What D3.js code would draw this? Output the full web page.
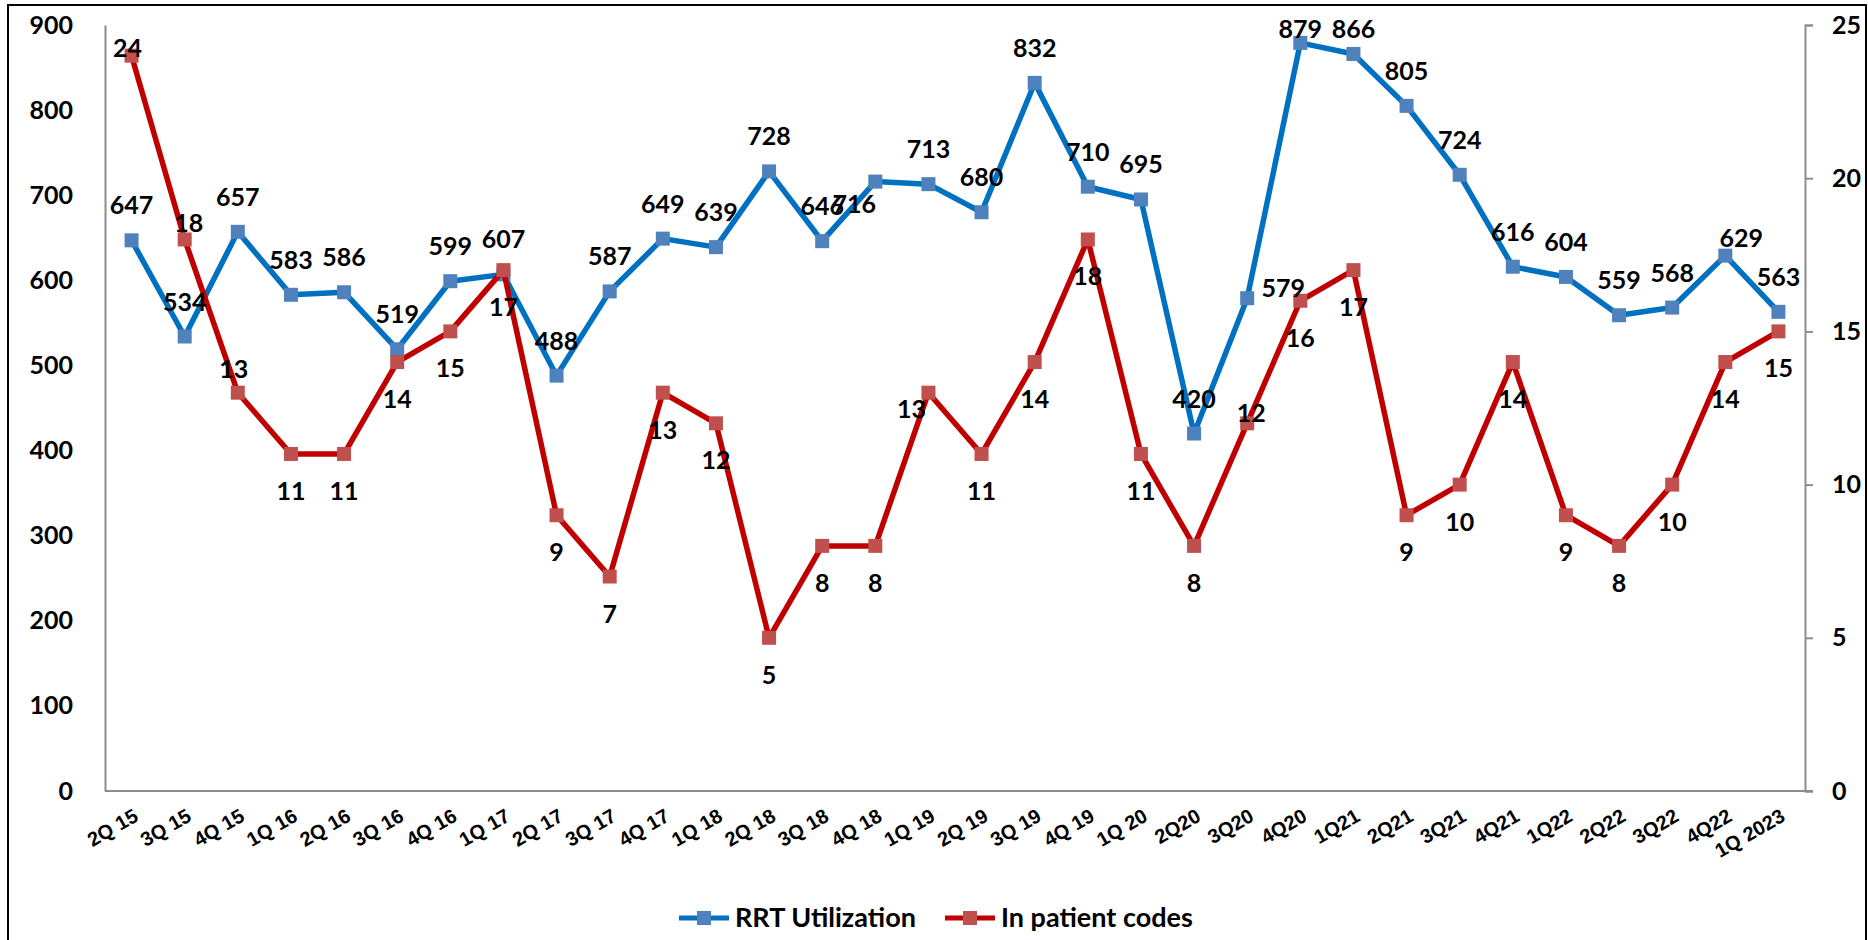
<!DOCTYPE html>
<html>
  <head>
    <meta http-equiv="content-type" content="text/html; charset=utf-8" />
    <title>RRT Utilization vs In patient codes</title>
    <script type="text/javascript" src="https://cdn.jsdelivr.net/npm/d3@7"></script>
  </head>
  <body style="margin:0;background:#fff;">
    <script type="text/javascript">
// quarters on the x axis
var quarters = ["2Q 15","3Q 15","4Q 15","1Q 16","2Q 16","3Q 16","4Q 16","1Q 17",
                "2Q 17","3Q 17","4Q 17","1Q 18","2Q 18","3Q 18","4Q 18","1Q 19",
                "2Q 19","3Q 19","4Q 19","1Q 20","2Q20","3Q20","4Q20","1Q21",
                "2Q21","3Q21","4Q21","1Q22","2Q22","3Q22","4Q22","1Q 2023"];

// left axis series
var rrtUtilization = [647,534,657,583,586,519,599,607,488,587,649,639,728,646,716,713,
                      680,832,710,695,420,579,879,866,805,724,616,604,559,568,629,563];

// right axis series
var inPatientCodes = [24,18,13,11,11,14,15,17,9,7,13,12,5,8,8,13,
                      11,14,18,11,8,12,16,17,9,10,14,9,8,10,14,15];

var leftTicks = [0,100,200,300,400,500,600,700,800,900];
var rightTicks = [0,5,10,15,20,25];

// label nudges where excel moved the label off its default spot [dx, dy]
var rrtLabelNudge = {14: [-21, 57], 21: [36, 25], 22: [0, 21], 23: [0, 10], 30: [16, 17]};
var codeLabelNudge = {0: [-4, -45], 1: [4, -53], 2: [-4, -61], 15: [-17, -21], 21: [4, -47]};

var w = 1868, h = 940,
    plotLeft = 105, plotRight = 1805, plotTop = 25, plotBottom = 791;

var svg = d3.select("body").append("svg")
  .attr("width", w).attr("height", h)
  .style("display", "block");

svg.append("rect")
  .attr("x", 8).attr("y", 5)
  .attr("width", 1858).attr("height", 960)
  .attr("fill", "#fff").attr("stroke", "#000").attr("stroke-width", 2);

var x = d3.scalePoint().domain(quarters).range([plotLeft, plotRight]).padding(0.5);
var yL = d3.scaleLinear().domain([0, 900]).range([plotBottom, plotTop]);
var yR = d3.scaleLinear().domain([0, 25]).range([plotBottom, plotTop]);

var numFont = "Lato, 'Open Sans', sans-serif";

// axes
var gL = svg.append("g").attr("transform", "translate(" + plotLeft + ",0)")
  .call(d3.axisLeft(yL).tickValues(leftTicks).tickSize(0).tickSizeOuter(0).tickPadding(32));
var gR = svg.append("g").attr("transform", "translate(" + plotRight + ",0)")
  .call(d3.axisRight(yR).tickValues(rightTicks).tickSize(8).tickSizeOuter(8).tickPadding(19));

[gL, gR].forEach(function(g) {
  g.select(".domain").attr("stroke", "#8c8c8c").attr("stroke-width", 2);
  g.selectAll(".tick line").attr("stroke", "#8c8c8c").attr("stroke-width", 2);
  g.selectAll("text")
    .attr("fill", "#000")
    .attr("font-family", numFont)
    .attr("font-weight", "bold")
    .attr("font-size", 25);
});

svg.append("line")
  .attr("x1", plotLeft).attr("x2", plotRight + 8)
  .attr("y1", plotBottom).attr("y2", plotBottom)
  .attr("stroke", "#8c8c8c").attr("stroke-width", 2);

// rotated quarter labels
svg.append("g").selectAll("text")
  .data(quarters)
  .enter()
    .append("text")
    .attr("transform", function(d) { return "translate(" + (x(d) + 8) + ",820) rotate(-30)"; })
    .attr("text-anchor", "end")
    .attr("font-family", "'Liberation Sans', Arial, sans-serif")
    .attr("font-weight", "bold")
    .attr("font-size", 20)
    .text(function(d) { return d; });

function drawSeries(values, y, lineColor, markColor) {
  var line = d3.line()
    .x(function(d, i) { return x(quarters[i]); })
    .y(function(d) { return y(d); });
  svg.append("path")
    .datum(values)
    .attr("d", line)
    .attr("fill", "none")
    .attr("stroke", lineColor)
    .attr("stroke-width", 5.5)
    .attr("stroke-linejoin", "round");
  svg.append("g").selectAll("rect")
    .data(values)
    .enter()
      .append("rect")
      .attr("x", function(d, i) { return x(quarters[i]) - 7; })
      .attr("y", function(d) { return y(d) - 7; })
      .attr("width", 14).attr("height", 14)
      .attr("fill", markColor);
}

drawSeries(rrtUtilization, yL, "#0070c0", "#4f81bd");
drawSeries(inPatientCodes, yR, "#c00000", "#c0504d");

function drawLabels(values, y, dyDefault, nudge) {
  svg.append("g").selectAll("text")
    .data(values)
    .enter()
      .append("text")
      .attr("x", function(d, i) { return x(quarters[i]) + (nudge[i] ? nudge[i][0] : 0); })
      .attr("y", function(d, i) { return y(d) + dyDefault + (nudge[i] ? nudge[i][1] : 0); })
      .attr("text-anchor", "middle")
      .attr("font-family", numFont)
      .attr("font-weight", "bold")
      .attr("font-size", 25)
      .attr("fill", "#000")
      .text(function(d) { return d; });
}

drawLabels(rrtUtilization, yL, -26, rrtLabelNudge);
drawLabels(inPatientCodes, yR, 46, codeLabelNudge);

// legend
var legend = [
  {name: "RRT Utilization", line: "#0070c0", mark: "#4f81bd", x: 679},
  {name: "In patient codes", line: "#c00000", mark: "#c0504d", x: 945}
];
var lg = svg.append("g").selectAll("g")
  .data(legend)
  .enter()
    .append("g")
    .attr("transform", function(d) { return "translate(" + d.x + ",918)"; });
lg.append("line")
  .attr("x1", 0).attr("x2", 50)
  .attr("stroke", function(d) { return d.line; })
  .attr("stroke-width", 5);
lg.append("rect")
  .attr("x", 18).attr("y", -7)
  .attr("width", 14).attr("height", 14)
  .attr("fill", function(d) { return d.mark; });
lg.append("text")
  .attr("x", 56).attr("dy", "0.35em")
  .attr("font-family", numFont)
  .attr("font-weight", "bold")
  .attr("font-size", 27)
  .text(function(d) { return d.name; });
    </script>
  </body>
</html>
